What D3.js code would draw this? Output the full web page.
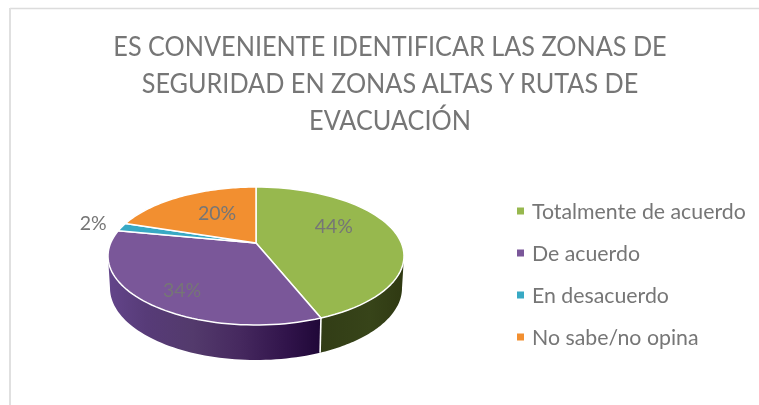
<!DOCTYPE html>
<html><head><meta charset="utf-8">
<script src="https://cdnjs.cloudflare.com/ajax/libs/d3/7.8.5/d3.min.js"></script>
<style>html,body{margin:0;padding:0;background:#fff;overflow:hidden}svg{display:block;filter:blur(0.35px)}</style>
</head><body><svg id="c" width="759" height="405"></svg>
<script>
const titleLines = ["ES CONVENIENTE IDENTIFICAR LAS ZONAS DE","SEGURIDAD EN ZONAS ALTAS Y RUTAS DE","EVACUACIÓN"];
const categories = ["Totalmente de acuerdo","De acuerdo","En desacuerdo","No sabe/no opina"];
const values = [44,34,2,20];
const colors = ["#97b84e","#7a5799","#38a9c4","#f28f30"];
const valueLabels = ["44%","34%","2%","20%"];

const W=759,H=405;
const svg=d3.select("#c");
const FONT="Lato, Carlito, sans-serif", TXT="#767676";
svg.append("path").attr("d",`M${W},8.5 H10`).attr("fill","none").attr("stroke","#dcdcdc").attr("stroke-width",1.5);
svg.append("path").attr("d",`M10,8 V${H}`).attr("fill","none").attr("stroke","#e0e0e0").attr("stroke-width",2);

const topE={cx:256,cy:256,rx:148,ry:69}, botE={cx:256,cy:288,rx:146,ry:72};
const k=-0.19, s=Math.sqrt(1-k*k);
function proj(e,a,r=1){const u=r*Math.sin(a),v=-r*Math.cos(a),d=1+k*v;
  return [e.cx+e.rx*u*s/d, e.cy+e.ry*(v+k)/d];}
const arcs=d3.pie().sort(null)(values);
const line=d3.line().curve(d3.curveLinear);
const samples=(a0,a1)=>d3.range(0,61).map(i=>a0+(a1-a0)*i/60);

const defs=svg.append("defs");
const wallStops=[
 [[0,"#63458a"],[.18,"#573b78"],[.4,"#533a6c"],[.62,"#46295f"],[.85,"#30134a"],[1,"#200838"]],
 [[0,"#323d16"],[.6,"#374419"],[1,"#2f3912"]]];
const wallRange=[[108,320],[320,404]];
wallStops.forEach((st,i)=>{const g=defs.append("linearGradient").attr("id","w"+i).attr("gradientUnits","userSpaceOnUse")
  .attr("x1",wallRange[i][0]).attr("x2",wallRange[i][1]).attr("y1",0).attr("y2",0);
  st.forEach(p=>g.append("stop").attr("offset",p[0]).attr("stop-color",p[1]));});

// walls: only the front-facing part of each slice
const front0=Math.acos(k), front1=2*Math.PI-Math.acos(k);
[[0,"w1"],[1,"w0"]].forEach(([i,g])=>{
  const a0=Math.max(arcs[i].startAngle,front0),a1=Math.min(arcs[i].endAngle,front1);
  const ang=samples(a0,a1);
  const pts=ang.map(a=>proj(topE,a)).concat(ang.slice().reverse().map(a=>proj(botE,a)));
  svg.append("path").attr("d",line(pts)+"Z").attr("fill",`url(#${g})`);
});
// wall seam between the green and purple slices
svg.append("path").attr("d",line([proj(topE,arcs[0].endAngle),proj(botE,arcs[0].endAngle)]))
  .attr("stroke","#fff").attr("stroke-width",1.6);

// top faces
arcs.forEach((d,i)=>{
  const ang=samples(d.startAngle,d.endAngle);
  const pts=[proj(topE,0,0)].concat(ang.map(a=>proj(topE,a)));
  svg.append("path").attr("d",line(pts)+"Z").attr("fill",colors[i]).attr("stroke","#fff").attr("stroke-width",1.5).attr("stroke-linejoin","round");
});

// data labels: centroid on the projected disc plus a small nudge
const labelRadius=[.6,.6,1.16,.6], labelNudge=[[-6,-10],[-13,13],[-8,-2],[8,0]];
arcs.forEach((d,i)=>{
  const p=proj(topE,(d.startAngle+d.endAngle)/2,labelRadius[i]);
  svg.append("text").attr("x",p[0]+labelNudge[i][0]).attr("y",p[1]+labelNudge[i][1]).attr("dy","0.36em")
   .attr("text-anchor","middle").attr("font-family",FONT).attr("font-size",19.5).attr("fill",TXT).text(valueLabels[i]);
});

// title
const titleY=d3.scalePoint().domain(d3.range(titleLines.length)).range([56,130]);
svg.selectAll(".t").data(titleLines).enter().append("text")
  .attr("transform",(d,i)=>`translate(390,${titleY(i)}) scale(.918,1)`)
  .attr("text-anchor","middle").attr("font-family",FONT).attr("font-size",27.5).attr("fill",TXT).text(d=>d);

// legend
const legY=d3.scalePoint().domain(categories).range([211,337]);
categories.forEach((c,i)=>{
  svg.append("rect").attr("x",517).attr("y",legY(c)-3.5).attr("width",7).attr("height",7).attr("fill",colors[i]);
  svg.append("text").attr("x",532).attr("y",legY(c)).attr("dy","0.36em").attr("font-family",FONT).attr("font-size",21.3).attr("fill",TXT).text(c);
});
</script></body></html>
